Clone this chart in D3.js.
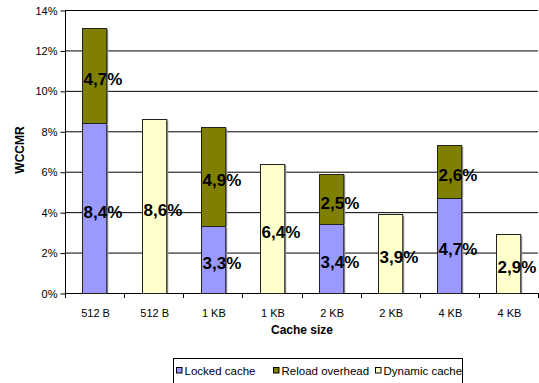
<!DOCTYPE html>
<html>
<head>
<meta charset="utf-8">
<script src="https://cdn.jsdelivr.net/npm/d3@7"></script>
<style>
  body { margin: 0; background: #fff; }
  text { font-family: "Liberation Sans", Arial, sans-serif; }
</style>
</head>
<body>
<svg id="chart"></svg>
<script>
const width = 539;
const height = 383;

// categories: pairs of (locked+reload) and dynamic for each cache size
var categories = ["512 B", "512 B", "1 KB", "1 KB", "2 KB", "2 KB", "4 KB", "4 KB"];
var lockedCache = [8.4, 0, 3.3, 0, 3.4, 0, 4.7, 0];
var reloadOverhead = [4.7, 0, 4.9, 0, 2.5, 0, 2.6, 0];
var dynamicCache = [0, 8.6, 0, 6.4, 0, 3.9, 0, 2.9];
var yTicks = [0, 2, 4, 6, 8, 10, 12, 14];
var seriesNames = ["Locked cache", "Reload overhead", "Dynamic cache"];
var seriesColors = ["#9999ff", "#808000", "#ffffcc"];

var svg = d3.select("#chart")
    .attr("width", width)
    .attr("height", height);

var margin = {left: 65, right: 1, top: 10, bottom: 90};

var x = d3.scaleBand()
    .domain(d3.range(categories.length))
    .range([margin.left, width - margin.right])
    .paddingInner(0)
    .paddingOuter(0);

var y = d3.scaleLinear()
    .domain([0, 14])
    .range([height - margin.bottom, margin.top]);

var fmt = v => v.toFixed(1).replace(".", ",") + "%";

// gridlines
svg.append("g")
    .selectAll("line")
    .data(yTicks.filter(d => d > 0))
    .enter().append("line")
    .attr("x1", margin.left)
    .attr("x2", width - margin.right)
    .attr("y1", d => y(d) + 0.5)
    .attr("y2", d => y(d) + 0.5)
    .attr("stroke", "#000")
    .attr("stroke-width", 1);

// y axis
var yAxis = svg.append("g")
    .attr("transform", `translate(${margin.left + 0.5},0.5)`)
    .call(d3.axisLeft(y).tickValues(yTicks).tickFormat(d => d + "%").tickSize(5).tickPadding(3));
yAxis.select(".domain").attr("stroke", "#000").attr("d", `M0,${y(14)}V${y(0)}`);
yAxis.selectAll("text").attr("font-size", "11px").attr("fill", "#000")
    .style("font-family", "'Liberation Sans', Arial, sans-serif");

// x axis (ticks at band boundaries)
var bounds = d3.range(categories.length + 1).map(i => margin.left + i * x.bandwidth());
var xg = svg.append("g");
xg.append("line")
    .attr("x1", margin.left).attr("x2", width - margin.right)
    .attr("y1", y(0) + 0.5).attr("y2", y(0) + 0.5)
    .attr("stroke", "#000");
xg.selectAll("line.tick")
    .data(bounds)
    .enter().append("line")
    .attr("class", "tick")
    .attr("x1", d => Math.round(d) + 0.5).attr("x2", d => Math.round(d) + 0.5)
    .attr("y1", y(0)).attr("y2", y(0) + 5)
    .attr("stroke", "#000");
xg.selectAll("text")
    .data(categories)
    .enter().append("text")
    .attr("x", (d, i) => x(i) + x.bandwidth() / 2 + 1)
    .attr("y", y(0) + 24)
    .attr("text-anchor", "middle")
    .attr("font-size", "11px")
    .text(d => d);

// stacked data
var stacked = categories.map((c, i) => {
    var segs = [];
    if (lockedCache[i] > 0) segs.push({s: 0, y0: 0, y1: lockedCache[i], v: lockedCache[i]});
    if (reloadOverhead[i] > 0) segs.push({s: 1, y0: lockedCache[i], y1: lockedCache[i] + reloadOverhead[i], v: reloadOverhead[i]});
    if (dynamicCache[i] > 0) segs.push({s: 2, y0: 0, y1: dynamicCache[i], v: dynamicCache[i]});
    return segs.map(d => Object.assign(d, {i: i}));
}).flat();

var barW = x.bandwidth() * 0.41;
var barX = i => Math.round(x(i) + (x.bandwidth() - barW) / 2) + 0.5;

// shadow
svg.append("g")
    .selectAll("rect")
    .data(stacked)
    .enter().append("rect")
    .attr("x", d => barX(d.i) + 1.5)
    .attr("y", d => y(d.y1) + 1.5)
    .attr("width", barW)
    .attr("height", d => y(d.y0) - y(d.y1) - 1.5)
    .attr("fill", "#999");

svg.append("g")
    .selectAll("rect")
    .data(stacked)
    .enter().append("rect")
    .attr("x", d => barX(d.i))
    .attr("y", d => Math.round(y(d.y1)) + 0.5)
    .attr("width", barW)
    .attr("height", d => Math.round(y(d.y0)) - Math.round(y(d.y1)))
    .attr("fill", d => seriesColors[d.s])
    .attr("stroke", "#222")
    .attr("stroke-width", 1);

// value labels
svg.append("g")
    .selectAll("text")
    .data(stacked)
    .enter().append("text")
    .attr("x", d => barX(d.i) + 1)
    .attr("y", d => (y(d.y0) + y(d.y1)) / 2 + 4)
    .attr("dominant-baseline", "central")
    .attr("font-size", "17px")
    .attr("font-weight", "bold")
    .attr("fill", "#000")
    .text(d => fmt(d.v));

// axis titles
svg.append("text")
    .attr("transform", `translate(24,150) rotate(-90)`)
    .attr("text-anchor", "middle")
    .attr("font-size", "12px")
    .attr("font-weight", "bold")
    .text("WCCMR");

svg.append("text")
    .attr("x", 302)
    .attr("y", 334)
    .attr("text-anchor", "middle")
    .attr("font-size", "12px")
    .attr("font-weight", "bold")
    .text("Cache size");

// legend
var legend = svg.append("g");
legend.append("rect")
    .attr("x", 173.5).attr("y", 358.5)
    .attr("width", 289).attr("height", 28)
    .attr("fill", "#fff").attr("stroke", "#000");
var legX = [176, 273, 375];
seriesNames.forEach((n, i) => {
    legend.append("rect")
        .attr("x", legX[i] + 0.5).attr("y", 367.5)
        .attr("width", 5.5).attr("height", 5.5)
        .attr("fill", seriesColors[i]).attr("stroke", "#000");
    legend.append("text")
        .attr("x", legX[i] + 8.5).attr("y", 374.5)
        .attr("font-size", "11.5px")
        .text(n);
});
</script>
</body>
</html>
